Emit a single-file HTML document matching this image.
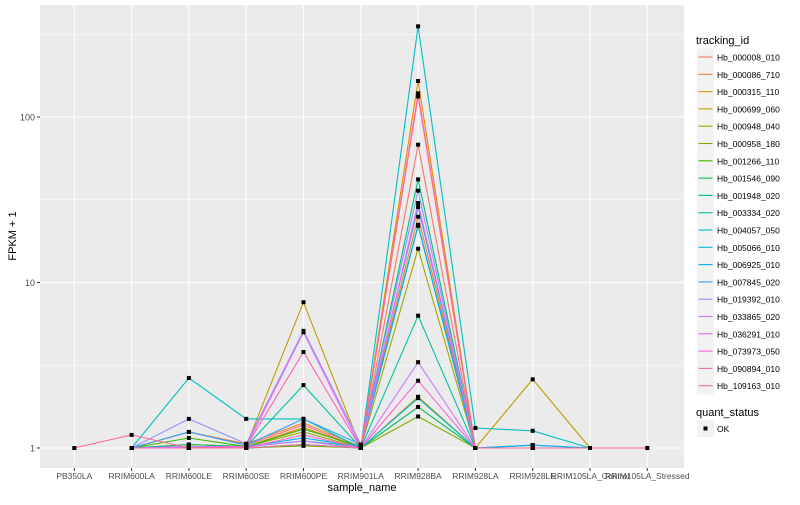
<!DOCTYPE html>
<html><head><meta charset="utf-8"><style>
body{margin:0;background:#fff;font-family:"Liberation Sans",sans-serif}
svg text{font-family:"Liberation Sans",sans-serif}
</style></head><body>
<svg id="chart" width="800" height="500" xmlns="http://www.w3.org/2000/svg"></svg>
<script>
const categories=["PB350LA","RRIM600LA","RRIM600LE","RRIM600SE","RRIM600PE","RRIM901LA","RRIM928BA","RRIM928LA","RRIM928LE","RRIM105LA_Control","RRIM105LA_Stressed"];
const seriesNames=["Hb_000008_010","Hb_000086_710","Hb_000315_110","Hb_000699_060","Hb_000948_040","Hb_000958_180","Hb_001266_110","Hb_001546_090","Hb_001948_020","Hb_003334_020","Hb_004057_050","Hb_005066_010","Hb_006925_010","Hb_007845_020","Hb_019392_010","Hb_033865_020","Hb_036291_010","Hb_073973_050","Hb_090894_010","Hb_109163_010"];
const seriesColors=["#F8766D","#EA8331","#D89000","#C09B00","#A3A500","#7CAE00","#39B600","#00BB4E","#00BF7D","#00C1A3","#00BFC4","#00BAE0","#00B0F6","#35A2FF","#9590FF","#C77CFF","#E76BF3","#FA62DB","#FF62BC","#FF6C91"];
const s0=[null,1,1.25,1.04,1.38,1,68,1,1,1,null];
const s1=[null,1,1.25,1.06,1.42,1.02,25,1,1,1,null];
const s2=[null,1,1.05,1.02,1.33,1,165,1,1,1,null];
const s3=[null,1,1,1.03,7.6,1,2.04,1,2.6,1,null];
const s4=[null,1,1.05,1.02,1.25,1,16,1,1,1,null];
const s5=[null,1,1,1,1.03,1,1.55,1,1,1,null];
const s6=[null,1,1.15,1.02,1.3,1.02,22.3,1,1,1,null];
const s7=[null,1,1,1,1.05,1,1.77,1,1,1,null];
const s8=[null,1,1.05,1.02,1.1,1.02,42,1,1,1,null];
const s9=[null,1,1.02,1.02,2.4,1,6.3,1,1,1,null];
const s10=[null,1,2.65,1.5,1.5,1,353,1.32,1.27,1,null];
const s11=[null,1,1,1,1.05,1,2.0,1,1.04,1,null];
const s12=[null,1,1.02,1.02,1.15,1.02,22,1,1.04,1,null];
const s13=[null,1,1.25,1.04,1.5,1.05,28.6,1,1,1,null];
const s14=[null,1,1.5,1.06,5.1,1.05,35.9,1,1,1,null];
const s15=[null,1,1.02,1.02,1.1,1,3.3,1,1,1,null];
const s16=[null,1,1,1.02,5.0,1,30.2,1,1,1,null];
const s17=[null,1,1,1,1.2,1,2.55,1,1,1,null];
const s18=[null,1,1,1.02,3.8,1,139,1,1,1,null];
const s19=[1,1.2,1,1,1.05,1,133,1,1,1,1];
const seriesValues=[s0,s1,s2,s3,s4,s5,s6,s7,s8,s9,s10,s11,s12,s13,s14,s15,s16,s17,s18,s19];
const yTicks=[1,10,100];
const yTickLabels=["1","10","100"];
const yMinor=[3.1623,31.623,316.23];

const NS="http://www.w3.org/2000/svg";
const svg=document.getElementById('chart');
const PL=40,PR=684,PT=5,PB=468;
const xScale=i=>74.3+57.3*i;
const yScale=v=>448-165.5*Math.log10(v);
function mk(tag,attrs,parent){const e=document.createElementNS(NS,tag);for(const k in attrs)e.setAttribute(k,attrs[k]);(parent||svg).appendChild(e);return e;}

const panel=mk('rect',{x:PL,y:PT,width:PR-PL,height:PB-PT,fill:'#EBEBEB'});


yMinor.forEach(v=>{const l=mk('line',{x1:PL,x2:PR,y1:yScale(v),y2:yScale(v),stroke:'#fff','stroke-width':0.5});

});
yTicks.forEach((v,i)=>{const y=yScale(v);
const l=mk('line',{x1:PL,x2:PR,y1:y,y2:y,stroke:'#fff','stroke-width':1.1});


mk('line',{x1:PL-3,x2:PL,y1:y,y2:y,stroke:'#333','stroke-width':1});
const t=mk('text',{x:PL-5,y:y+3.5,'text-anchor':'end','font-size':9,fill:'#4D4D4D'});t.textContent=yTickLabels[i];

});
categories.forEach((c,i)=>{const x=xScale(i);
const l=mk('line',{x1:x,x2:x,y1:PT,y2:PB,stroke:'#fff','stroke-width':1.1});


mk('line',{x1:x,x2:x,y1:PB,y2:PB+3,stroke:'#333','stroke-width':1});
const t=mk('text',{x:x,y:PB+11,'text-anchor':'middle','font-size':8.5,fill:'#4D4D4D'});t.textContent=c;

});
seriesValues.forEach((vals,si)=>{let d='';vals.forEach((v,i)=>{if(v==null)return;d+=(d?'L':'M')+xScale(i).toFixed(1)+','+yScale(v).toFixed(1);});
const p=mk('path',{d:d,fill:'none',stroke:seriesColors[si],'stroke-width':1.1});

});
seriesValues.forEach((vals,si)=>{vals.forEach((v,i)=>{if(v==null)return;
const r=mk('rect',{x:xScale(i)-2,y:yScale(v)-2,width:4,height:4,fill:'#000'});

});});
const xt=mk('text',{x:362,y:491,'text-anchor':'middle','font-size':11,fill:'#000'});xt.textContent='sample_name';


const yt=mk('text',{x:0,y:0,'text-anchor':'middle','font-size':11,fill:'#000',transform:'translate(16,236) rotate(-90)'});yt.textContent='FPKM + 1';


// legend
const lt=mk('text',{x:696,y:44,'font-size':11,fill:'#000'});lt.textContent='tracking_id';


seriesNames.forEach((n,i)=>{const y=48.5+17.3*i;
const g=mk('g',{});


mk('rect',{x:697,y:y,width:17,height:17,fill:'#F2F2F2'},g);
mk('line',{x1:698.5,x2:712.5,y1:y+8.5,y2:y+8.5,stroke:seriesColors[i],'stroke-width':1.1},g);
const t=mk('text',{x:717,y:y+12,'font-size':8.5,fill:'#000'},g);t.textContent=n;});
const qt=mk('text',{x:696,y:416,'font-size':11,fill:'#000'});qt.textContent='quant_status';


const qg=mk('g',{});


mk('rect',{x:697,y:420,width:17,height:17,fill:'#F2F2F2'},qg);
mk('rect',{x:703.5,y:426.5,width:4,height:4,fill:'#000'},qg);
const ok=mk('text',{x:717,y:432,'font-size':8.5,fill:'#000'},qg);ok.textContent='OK';
</script>
</body></html>
